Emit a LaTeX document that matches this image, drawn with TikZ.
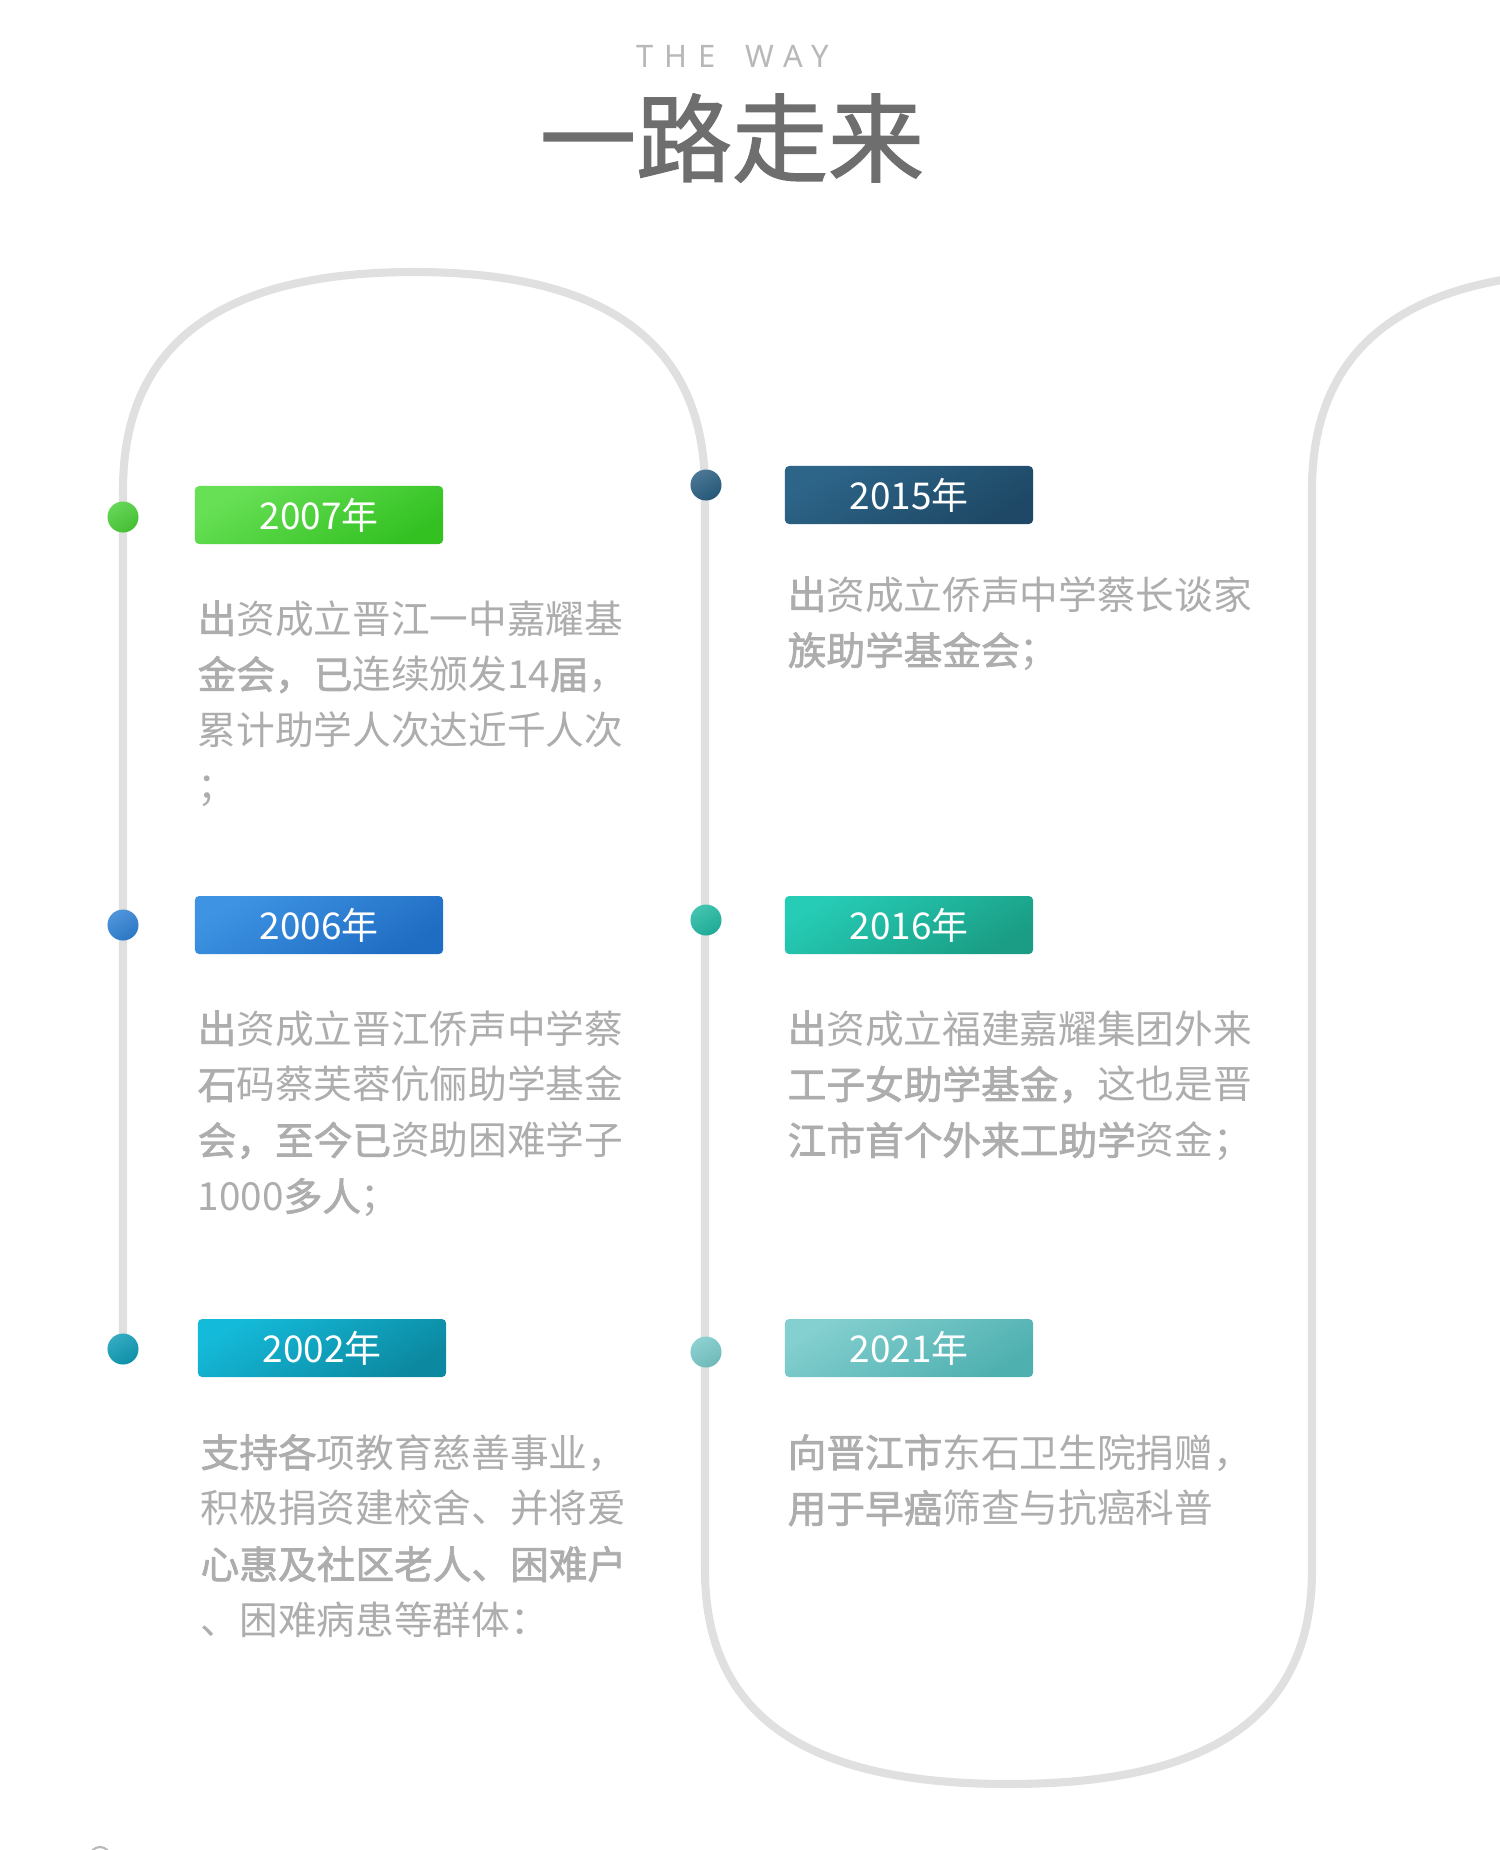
\documentclass[tikz,border=0pt]{standalone}
\usepackage{fontspec}
\setmainfont{Noto Sans CJK SC}
\newfontfamily\wayfont[LetterSpace=34,WordSpace=1.6]{Noto Sans}
\newfontfamily\titlefont[FakeBold=1.5]{Noto Sans CJK SC}
\newfontfamily\heavyfont[FakeBold=1.8]{Noto Sans CJK SC}
\newcommand{\hv}[1]{{\heavyfont #1}}
\definecolor{track}{HTML}{E0E0E0}
\definecolor{bodygray}{HTML}{ADADAD}
\definecolor{titlegray}{HTML}{6E6E6E}
\definecolor{waygray}{HTML}{B8B8B8}
\definecolor{greenA}{HTML}{68E056}\definecolor{greenB}{HTML}{33C122}
\definecolor{blueA}{HTML}{3E94E3}\definecolor{blueB}{HTML}{1F6CC3}
\definecolor{cyanA}{HTML}{14BAD9}\definecolor{cyanB}{HTML}{0C88A0}
\definecolor{navyA}{HTML}{2D6589}\definecolor{navyB}{HTML}{1E4865}
\definecolor{tealA}{HTML}{26CCB6}\definecolor{tealB}{HTML}{1A9D84}
\definecolor{mintA}{HTML}{84CFCF}\definecolor{mintB}{HTML}{4FB0B0}
\tikzset{
  trackline/.style={line width=2.3pt,track,line cap=round},
  yearbox/.style 2 args={top color=#1,bottom color=#2,shading angle=30,rounded corners=1.2pt,
    minimum width=2.48cm,minimum height=0.58cm,inner sep=0pt,text=white,font=\fontsize{10.5pt}{12pt}\selectfont},
  yeardot/.style={circle,minimum size=0.31cm,inner sep=0pt,top color=#1!85!white,bottom color=#1!92!black,shading angle=30},
  desc/.style={anchor=base west,align=left,text width=5.2cm,inner sep=0pt,text=bodygray,
    font=\fontsize{11pt}{15.9pt}\selectfont},
}
\begin{document}
\begin{tikzpicture}[x=0.01cm,y=-0.01cm]
\useasboundingbox (0,0) rectangle (1500,1850);
\fill[white] (0,0) rectangle (1500,1850);
\clip (0,0) rectangle (1500,1850);
\node[text=waygray,font=\wayfont\fontsize{8.8pt}{10pt}\selectfont] (way) at (733,56) {THE WAY};
\node[text=titlegray,font=\titlefont\fontsize{27.3pt}{30pt}\selectfont] (title) at (732,138) {一路走来};
\coordinate (bend) at (1603,272);
\coordinate (d2002) at (123,1349);
\draw[trackline] (d2002) -- (123,490) .. controls (123,330) and (240,272) .. (414,272)
  .. controls (588,272) and (705,330) .. (705,490) -- (705,1570)
  .. controls (705,1730) and (827,1784) .. (1008.5,1784)
  .. controls (1190,1784) and (1312,1730) .. (1312,1570) -- (1312,490)
  .. controls (1312,330) and (1429,272) .. (bend);
\node[yeardot=greenB!55!greenA] (dot2007) at (123,517) {};
\node[yeardot=blueA!55!blueB] (dot2006) at (123,925) {};
\node[yeardot=cyanA!40!cyanB] (dot2002) at (d2002) {};
\node[yeardot=navyA!80!navyB] (dot2015) at (706,485) {};
\node[yeardot=tealA!60!tealB] (dot2016) at (706,920) {};
\node[yeardot=mintA!80!mintB] (dot2021) at (706,1352) {};
\node[yearbox={greenA}{greenB}] (y2007) at (319,515) {2007年};
\node[yearbox={blueA}{blueB}] (y2006) at (319,925) {2006年};
\node[yearbox={cyanA}{cyanB}] (y2002) at (322,1348) {2002年};
\node[yearbox={navyA}{navyB}] (y2015) at (909,495) {2015年};
\node[yearbox={tealA}{tealB}] (y2016) at (909,925) {2016年};
\node[yearbox={mintA}{mintB}] (y2021) at (909,1348) {2021年};
\node[desc] (t2007) at (197,633) {\hv{出}资成立晋江一中嘉耀基\\\hv{金会，已}连续颁发14\hv{届}，\\累计助学人次达近千人次\\；};
\node[desc] (t2006) at (197,1043) {\hv{出}资成立晋江侨声中学蔡\\\hv{石}码蔡芙蓉伉俪助学基金\\\hv{会，至今已}资助困难学子\\1000\hv{多人}；};
\node[desc] (t2002) at (200,1467) {\hv{支持各}项教育慈善事业，\\积极捐资建校舍、并将爱\\\hv{心惠及社区老人、困难户}\\、困难病患等群体：};
\node[desc] (t2015) at (787,609) {\hv{出}资成立侨声中学蔡长谈家\\\hv{族助学基金会}；};
\node[desc] (t2016) at (787,1043) {\hv{出}资成立福建嘉耀集团外来\\\hv{工子女助学基金，}这也是晋\\\hv{江市首个外来工助学}资金；};
\node[desc] (t2021) at (787,1467) {\hv{向晋江市}东石卫生院捐赠，\\\hv{用于早癌}筛查与抗癌科普};
\node[circle,draw=waygray,line width=0.6pt,minimum size=0.2cm,inner sep=0pt] (knob) at (100,1857) {};
\end{tikzpicture}
\end{document}
